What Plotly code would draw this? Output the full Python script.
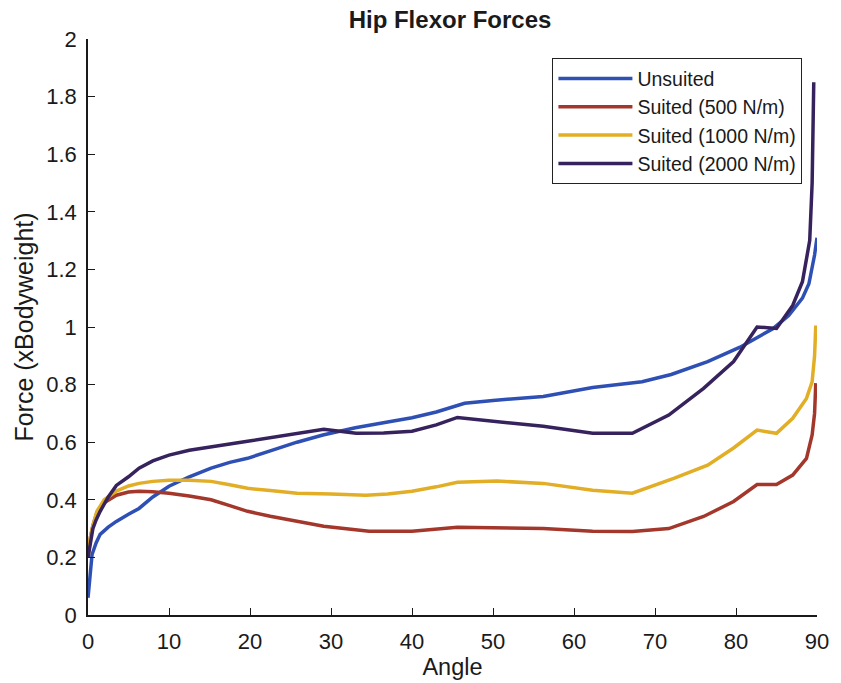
import plotly.graph_objects as go

# ---- data ----
unsuited_angle = [0, 0.3, 0.5, 1, 1.5, 2.5, 3.5, 5, 6.3, 8, 10, 12.5, 15.2, 17.5, 19.7, 22.5, 25.8, 29, 33, 37, 40, 43, 46.5, 50, 56.2, 62.3, 68.4, 72, 76.5, 80.5, 84.6, 86.5, 88.2, 89, 89.4, 89.7, 90]
unsuited_force = [0.06, 0.16, 0.21, 0.25, 0.28, 0.305, 0.325, 0.35, 0.37, 0.41, 0.447, 0.48, 0.51, 0.53, 0.544, 0.57, 0.60, 0.625, 0.65, 0.67, 0.685, 0.705, 0.735, 0.745, 0.759, 0.79, 0.81, 0.835, 0.88, 0.93, 0.995, 1.04, 1.1, 1.15, 1.2, 1.25, 1.31]

s500_angle = [0, 0.3, 0.6, 1.1, 2, 3.5, 5, 6.3, 8, 10, 12.5, 15.2, 17.5, 19.7, 22.5, 25.8, 29.1, 34.7, 40, 45.6, 50, 56.2, 62.3, 67.2, 71.7, 76, 79.7, 82.6, 85, 87, 88.7, 89.4, 89.7, 89.85]
s500_force = [0.2, 0.27, 0.31, 0.355, 0.39, 0.416, 0.427, 0.43, 0.428, 0.423, 0.413, 0.40, 0.38, 0.36, 0.343, 0.326, 0.308, 0.291, 0.291, 0.305, 0.303, 0.30, 0.291, 0.29, 0.30, 0.342, 0.394, 0.453, 0.453, 0.486, 0.544, 0.625, 0.70, 0.805]

s1000_angle = [0, 0.3, 0.6, 1.1, 2, 3.5, 5, 6.3, 8, 10, 12.5, 15.2, 17.5, 19.7, 22.5, 25.8, 30, 34.3, 37, 40, 43, 45.6, 50.5, 56.2, 62.3, 67.2, 72.4, 76.5, 79.7, 82.6, 85, 87, 88.7, 89.4, 89.7, 89.85]
s1000_force = [0.2, 0.27, 0.31, 0.36, 0.40, 0.43, 0.448, 0.457, 0.464, 0.468, 0.468, 0.464, 0.452, 0.44, 0.432, 0.423, 0.42, 0.416, 0.42, 0.43, 0.445, 0.461, 0.465, 0.457, 0.433, 0.423, 0.475, 0.52, 0.58, 0.642, 0.631, 0.683, 0.752, 0.81, 0.90, 1.005]

s2000_angle = [0, 0.3, 0.6, 1, 1.5, 2.5, 3.5, 5, 6.3, 8, 10, 12.5, 15.2, 17.5, 19.7, 22.5, 25.8, 29.1, 33.1, 36.5, 40, 43, 45.6, 50, 56.2, 62.3, 67.2, 71.7, 76, 79.7, 82.6, 85, 87, 88.2, 89.1, 89.4, 89.6]
s2000_force = [0.2, 0.26, 0.30, 0.33, 0.36, 0.41, 0.45, 0.48, 0.51, 0.535, 0.555, 0.572, 0.585, 0.594, 0.603, 0.615, 0.631, 0.645, 0.631, 0.632, 0.638, 0.66, 0.686, 0.673, 0.655, 0.631, 0.631, 0.694, 0.787, 0.88, 1.0, 0.995, 1.075, 1.157, 1.30, 1.50, 1.85]

series_names = ["Unsuited", "Suited (500 N/m)", "Suited (1000 N/m)", "Suited (2000 N/m)"]
series_colors = ["#2E50B4", "#A3372B", "#E2AE26", "#36235E"]

x_ticks = [0, 10, 20, 30, 40, 50, 60, 70, 80, 90]
y_ticks = [0, 0.2, 0.4, 0.6, 0.8, 1, 1.2, 1.4, 1.6, 1.8, 2]
y_tick_labels = ["0", "0.2", "0.4", "0.6", "0.8", "1", "1.2", "1.4", "1.6", "1.8", "2"]

xs = [unsuited_angle, s500_angle, s1000_angle, s2000_angle]
ys = [unsuited_force, s500_force, s1000_force, s2000_force]

FONT = "Liberation Sans, Arial, Helvetica, sans-serif"
INK = "#1a1a1a"

fig = go.Figure()
for name, color, x, y in zip(series_names, series_colors, xs, ys):
    fig.add_trace(go.Scatter(x=x, y=y, mode="lines", name=name,
                             line=dict(color=color, width=3.5)))

fig.update_layout(
    width=841, height=683,
    margin=dict(l=88, r=13, t=39, b=66),
    paper_bgcolor="white", plot_bgcolor="white",
    font=dict(family=FONT, color=INK),
    title=dict(text="<b>Hip Flexor Forces</b>", x=(450 / 841), xanchor="center",
               y=1 - 20 / 683, yanchor="middle", font=dict(size=24, color=INK)),
    showlegend=True,
    legend=dict(x=(813 - 88) / 740, xanchor="right", y=0.967, yanchor="top",
                bordercolor="#222", borderwidth=1.2, bgcolor="white",
                font=dict(size=19.5, color=INK), itemwidth=74,
                tracegroupgap=0),
)
fig.update_xaxes(range=[0, 90], tickvals=x_ticks, ticks="inside", ticklen=7,
                 tickwidth=1.3, tickcolor=INK, showline=True, linecolor=INK,
                 linewidth=1.5, showgrid=False, zeroline=False,
                 tickfont=dict(size=22, color=INK), ticklabelstandoff=6,
                 title=dict(text="Angle", font=dict(size=23.5, color=INK), standoff=0))
fig.update_yaxes(range=[0, 2], tickvals=y_ticks, ticktext=y_tick_labels,
                 ticks="inside", ticklen=7, tickwidth=1.3, tickcolor=INK,
                 showline=True, linecolor=INK, linewidth=1.5, showgrid=False,
                 zeroline=False, tickfont=dict(size=22, color=INK),
                 ticklabelstandoff=5,
                 title=dict(text="Force (xBodyweight)", font=dict(size=25, color=INK),
                            standoff=6))

fig.write_html("out.html")
